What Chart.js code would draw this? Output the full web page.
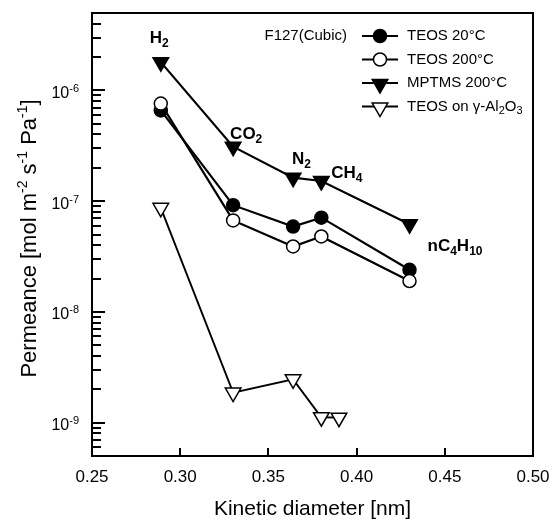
<!DOCTYPE html>
<html><head><meta charset="utf-8">
<script src="https://cdn.jsdelivr.net/npm/chart.js@4.4.1/dist/chart.umd.min.js"></script>
<style>html,body{margin:0;padding:0;background:#fff}#wrap{width:555px;height:523px}</style>
</head><body><div id="wrap"><canvas id="c" width="555" height="523"></canvas></div>
<script>
// ---- data ----
const kineticDiameter = [0.289, 0.330, 0.364, 0.380, 0.430];
const gasNames = ['H2', 'CO2', 'N2', 'CH4', 'nC4H10'];
const teos20 = [6.6e-7, 9.2e-8, 5.9e-8, 7.1e-8, 2.4e-8];
const teos200 = [7.6e-7, 6.7e-8, 3.9e-8, 4.8e-8, 1.9e-8];
const mptms200 = [1.8e-6, 3.1e-7, 1.63e-7, 1.52e-7, 6.2e-8];
const aluminaX = [0.289, 0.330, 0.364, 0.380, 0.390];
const aluminaTeos = [8.7e-8, 1.87e-9, 2.46e-9, 1.12e-9, 1.11e-9];
const seriesNames = ['TEOS 20°C', 'TEOS 200°C', 'MPTMS 200°C', 'TEOS on γ-Al2O3'];
const legendHeader = 'F127(Cubic)';
const xTickValues = [0.25, 0.30, 0.35, 0.40, 0.45, 0.50];
const xTickLabels = ['0.25', '0.30', '0.35', '0.40', '0.45', '0.50'];
const yDecades = [1e-9, 1e-8, 1e-7, 1e-6];
const yDecadeExponents = ['-9', '-8', '-7', '-6'];
const yMinorFactors = [2, 3, 4, 5, 6, 7, 8, 9];
const xTitle = 'Kinetic diameter [nm]';
const yTitleParts = [['Permeance [mol m', 0], ['-2', 1], [' s', 0], ['-1', 1], [' Pa', 0], ['-1', 1], [']', 0]];

const pts = (xs, ys) => xs.map((x, i) => ({x: x, y: ys[i]}));
const FONT = '"Liberation Sans", Arial, Helvetica, sans-serif';

const styles = [
  {pointStyle: 'circle', radius: 6.5, rotation: 0, fill: '#000', lw: 2.2},
  {pointStyle: 'circle', radius: 6.5, rotation: 0, fill: '#fff', lw: 2.2},
  {pointStyle: 'triangle', radius: 9, rotation: 180, fill: '#000', lw: 2.2},
  {pointStyle: 'triangle', radius: 9, rotation: 180, fill: '#fff', lw: 1.9}
];
const seriesData = [
  pts(kineticDiameter, teos20),
  pts(kineticDiameter, teos200),
  pts(kineticDiameter, mptms200),
  pts(aluminaX, aluminaTeos)
];
const drawOrder = [1, 0, 2, 3];

function richWidth(ctx, segs) {
  let w = 0;
  segs.forEach(s => { ctx.font = s.font; w += ctx.measureText(s.t).width; });
  return w;
}
function drawRich(ctx, segs, x, y, align) {
  let w = richWidth(ctx, segs);
  let cx = align === 'right' ? x - w : (align === 'center' ? x - w / 2 : x);
  ctx.textAlign = 'left';
  segs.forEach(s => {
    ctx.font = s.font;
    ctx.fillText(s.t, cx, y + (s.dy || 0));
    cx += ctx.measureText(s.t).width;
  });
}
// digits directly following a letter are chemical subscripts
function subSegs(text, mainFont, subFont, subDy) {
  const parts = text.match(/\d+|[^\d]+/g);
  return parts.map((p, i) => {
    const prev = i > 0 ? parts[i - 1] : '';
    const isSub = /^\d+$/.test(p) && /[A-Za-z]$/.test(prev);
    return isSub ? {t: p, font: subFont, dy: subDy} : {t: p, font: mainFont, dy: 0};
  });
}
function marker(ctx, st, x, y) {
  ctx.save();
  ctx.beginPath();
  if (st.pointStyle === 'circle') {
    ctx.arc(x, y, st.radius, 0, Math.PI * 2);
  } else {
    let rad = st.rotation * Math.PI / 180;
    const r = st.radius;
    ctx.moveTo(x + Math.sin(rad) * r, y - Math.cos(rad) * r);
    rad += 2 * Math.PI / 3;
    ctx.lineTo(x + Math.sin(rad) * r, y - Math.cos(rad) * r);
    rad += 2 * Math.PI / 3;
    ctx.lineTo(x + Math.sin(rad) * r, y - Math.cos(rad) * r);
    ctx.closePath();
  }
  ctx.fillStyle = st.fill;
  ctx.strokeStyle = '#000';
  ctx.lineWidth = 1.5;
  ctx.fill();
  ctx.stroke();
  ctx.restore();
}

const decorPlugin = {
  id: 'decor',
  afterDraw(chart) {
    const ctx = chart.ctx;
    const xs = chart.scales.x, ys = chart.scales.y;
    const a = chart.chartArea;
    ctx.save();
    ctx.fillStyle = '#000';
    ctx.strokeStyle = '#000';
    // frame
    ctx.lineWidth = 2;
    ctx.strokeRect(a.left, a.top, a.right - a.left, a.bottom - a.top);
    // inward ticks
    ctx.lineWidth = 2;
    ys.ticks.forEach(t => {
      const p = Math.round(ys.getPixelForValue(t.value));
      const len = t.major ? 13 : 9;
      ctx.beginPath(); ctx.moveTo(a.left, p); ctx.lineTo(a.left + len, p); ctx.stroke();
    });
    xs.ticks.forEach(t => {
      const p = Math.round(xs.getPixelForValue(t.value));
      ctx.beginPath(); ctx.moveTo(p, a.bottom); ctx.lineTo(p, a.bottom - 8); ctx.stroke();
    });
    // y tick labels 10^n
    ctx.textBaseline = 'alphabetic';
    yDecades.forEach((v, i) => {
      const p = ys.getPixelForValue(v);
      const segs = [{t: '10', font: '16px ' + FONT, dy: 7.5}, {t: yDecadeExponents[i], font: '11px ' + FONT, dy: 1.5}];
      drawRich(ctx, segs, 79, p, 'right');
    });
    // y title (rotated)
    ctx.save();
    ctx.translate(28, (a.top + a.bottom) / 2 + 4);
    ctx.rotate(-Math.PI / 2);
    const tsegs = yTitleParts.map(([t, sup]) => sup ? {t, font: '14px ' + FONT, dy: -8.5} : {t, font: '22px ' + FONT, dy: 0});
    drawRich(ctx, tsegs, 0, 7.5, 'center');
    ctx.restore();
    // gas labels anchored to MPTMS points
    const gasOffsets = [[-11, -19], [-3, -8], [-1, -14], [10, -3], [18, 27]];
    gasNames.forEach((g, i) => {
      const px = xs.getPixelForValue(kineticDiameter[i]);
      const py = ys.getPixelForValue(mptms200[i]);
      drawRich(ctx, subSegs(g, 'bold 17px ' + FONT, 'bold 12px ' + FONT, 4), px + gasOffsets[i][0], py + gasOffsets[i][1], 'left');
    });
    // legend
    ctx.textBaseline = 'middle';
    ctx.font = '15px ' + FONT;
    ctx.textAlign = 'right';
    ctx.fillText(legendHeader, 347, 36);
    seriesNames.forEach((name, i) => {
      const ry = 36 + i * 23.5;
      ctx.lineWidth = 2;
      ctx.beginPath(); ctx.moveTo(362, ry); ctx.lineTo(398, ry); ctx.stroke();
      const st = styles[i];
      marker(ctx, st, 380, st.pointStyle === 'triangle' ? ry + 1 : ry);
      ctx.fillStyle = '#000';
      drawRich(ctx, subSegs(name, '15px ' + FONT, '11px ' + FONT, 4), 407, ry, 'left');
    });
    ctx.restore();
  }
};

const datasets = seriesData.map((d, i) => ({
  label: seriesNames[i],
  data: d,
  order: drawOrder[i],
  borderColor: '#000',
  borderWidth: styles[i].lw,
  backgroundColor: styles[i].fill,
  pointStyle: styles[i].pointStyle,
  pointRotation: styles[i].rotation,
  pointRadius: styles[i].radius,
  pointHoverRadius: styles[i].radius,
  pointBackgroundColor: styles[i].fill,
  pointBorderColor: '#000',
  pointBorderWidth: 1.5,
  tension: 0,
  fill: false
}));

new Chart(document.getElementById('c'), {
  type: 'line',
  data: {datasets},
  options: {
    responsive: false,
    animation: false,
    devicePixelRatio: 1,
    layout: {padding: {left: 0, top: 13, right: 22, bottom: 0}},
    plugins: {legend: {display: false}, tooltip: {enabled: false}, title: {display: false}},
    scales: {
      x: {
        type: 'linear', min: 0.25, max: 0.50,
        afterBuildTicks: s => { s.ticks = xTickValues.map(v => ({value: v})); },
        afterFit: s => { s.height = 67; s.paddingLeft = 0; s.paddingRight = 0; },
        grid: {display: false, drawTicks: false},
        border: {display: false},
        ticks: {
          autoSkip: false, maxRotation: 0, padding: 11, color: '#000',
          font: {family: FONT, size: 17},
          callback: (v, i) => xTickLabels[i]
        },
        title: {display: true, text: xTitle, color: '#000', font: {family: FONT, size: 21}, padding: {top: 0, bottom: 1}}
      },
      y: {
        type: 'logarithmic', min: 5e-10, max: 5e-6,
        afterBuildTicks: s => {
          const t = [];
          yDecades.forEach(d => {
            t.push({value: d, major: true});
            yMinorFactors.forEach(f => t.push({value: d * f, major: false}));
          });
          [5e-10, 6e-10, 7e-10, 8e-10, 9e-10].forEach(v => t.push({value: v, major: false}));
          s.ticks = t.filter(o => o.value >= 5e-10 * 0.999 && o.value <= 5e-6 * 1.001).sort((p, q) => p.value - q.value);
        },
        afterFit: s => { s.width = 92; s.paddingTop = 0; s.paddingBottom = 0; },
        grid: {display: false, drawTicks: false},
        border: {display: false},
        ticks: {display: false, autoSkip: false}
      }
    }
  },
  plugins: [decorPlugin]
});
</script>
</body></html>
